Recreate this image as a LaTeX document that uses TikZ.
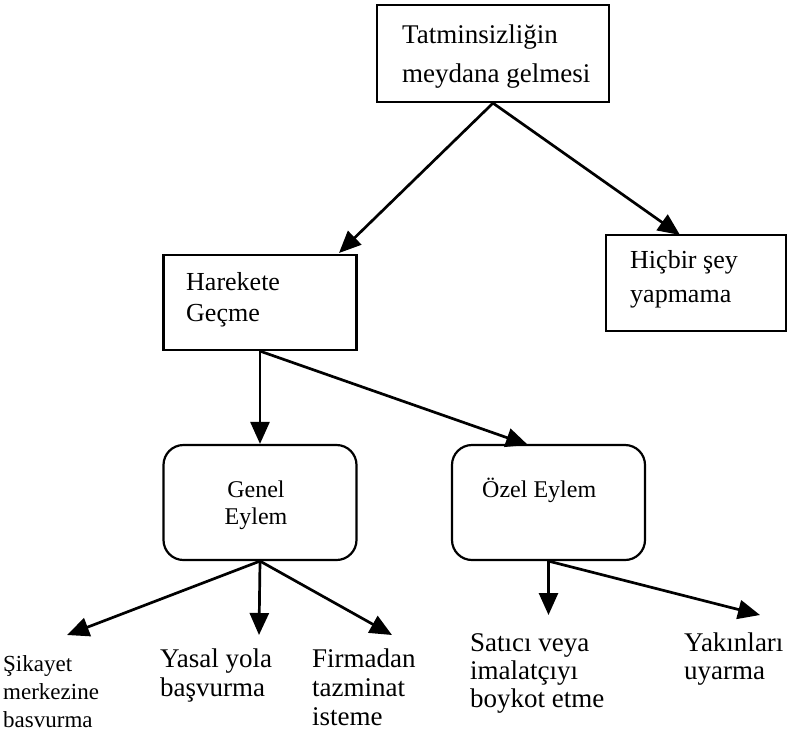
\documentclass[tikz,border=0pt]{standalone}
\usepackage{fontspec}
\setmainfont{Liberation Serif}
\usetikzlibrary{arrows.meta}
% multi-line labels whose baseline is that of their first line
\newcommand\leftlines[1]{\begin{tabular}[t]{@{}l@{}}#1\end{tabular}}
\newcommand\midlines[1]{\begin{tabular}[t]{@{}c@{}}#1\end{tabular}}
\newcommand\fsz[2]{\fontsize{#1pt}{#2pt}\selectfont}
\tikzset{
  box/.style={draw, line width=2.2pt, inner sep=0pt},
  roundbox/.style={box, rounded corners=20pt},
  txt/.style={inner sep=0pt, anchor=base west},
  midtxt/.style={inner sep=0pt, anchor=base},
  arr/.style={line width=2.7pt, -{Triangle[length=22pt,width=19pt]}},
}
\begin{document}
\begin{tikzpicture}[x=1pt,y=-1pt]
\useasboundingbox (0,0) rectangle (792,734);

% boxes
\node[box, minimum width=232pt, minimum height=97pt] (top) at (493,53.5) {};
\node[box, minimum width=193pt, minimum height=95pt] (har) at (260,302.5) {};
\node[box, minimum width=180pt, minimum height=96pt] (hic) at (696,283) {};
\node[roundbox, minimum width=193pt, minimum height=115pt] (gen) at (260,502.5) {};
\node[roundbox, minimum width=193pt, minimum height=115pt] (oze) at (548.5,502.5) {};

% box texts
\node[txt, font=\fsz{27}{39}] (topT) at (402,43) {\leftlines{Tatminsizliğin\\meydana gelmesi}};
\node[txt, font=\fsz{26}{31}] (harT) at (186,290) {\leftlines{Harekete\\Geçme}};
\node[txt, font=\fsz{26}{34}] (hicT) at (630,268) {\leftlines{Hiçbir şey\\yapmama}};
\node[midtxt, font=\fsz{24}{27}] (genT) at (256,497) {\midlines{Genel\\Eylem}};
\node[txt, font=\fsz{24}{27}] (ozeT) at (482,497) {Özel Eylem};

% outcome texts
\node[txt, font=\fsz{23}{28}] (sik) at (3,671) {\leftlines{Şikayet\\merkezine\\basvurma}};
\node[txt, font=\fsz{27}{29}] (yas) at (160,667) {\leftlines{Yasal yola\\başvurma}};
\node[txt, font=\fsz{27}{29}] (fir) at (312,667) {\leftlines{Firmadan\\tazminat\\isteme}};
\node[txt, font=\fsz{27}{28}] (sat) at (470,651) {\leftlines{Satıcı veya\\imalatçıyı\\boykot etme}};
\node[txt, font=\fsz{27}{28}] (yak) at (684,651) {\leftlines{Yakınları\\uyarma}};

% arrow tips
\coordinate (tHar) at (339,253);
\coordinate (tHic) at (680,235);
\coordinate (tOze) at (528,445);
\coordinate (tSik) at (67,635);
\coordinate (tYas) at (259,635);
\coordinate (tFir) at (392,635);
\coordinate (tSat) at (548.5,615);
\coordinate (tYak) at (760,615);

% connectors
\draw[arr] (top.south) -- (tHar);
\draw[arr] (top.south) -- (tHic);
\draw[arr] (har.south) -- (gen.north);
\draw[arr] (har.south) -- (tOze);
\draw[arr] (gen.south) -- (tSik);
\draw[arr] (gen.south) -- (tYas);
\draw[arr] (gen.south) -- (tFir);
\draw[arr] (oze.south) -- (tSat);
\draw[arr] (oze.south) -- (tYak);
\end{tikzpicture}
\end{document}
